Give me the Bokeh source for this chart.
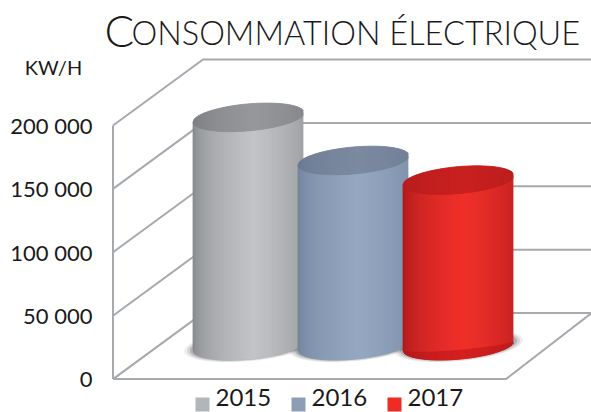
import math
from bokeh.core.properties import value
from bokeh.embed import file_html
from bokeh.resources import INLINE
from bokeh.plotting import figure
from bokeh.models import Range1d

categories = ["2015", "2016", "2017"]
values = [180000, 146000, 130500]
legend_colors = ["#b3b6b9", "#8c9db5", "#ee2b24"]
body_edge = ["#808285", "#6f7f99", "#a5181b"]
body_light = ["#c2c4c6", "#95a8c1", "#f0302a"]
top_edge = ["#77797d", "#687690", "#b01c1e"]
top_light = ["#96989b", "#7c8aa0", "#c9211f"]
base_tint = [None, None, "#d51f1f"]
tick_values = [0, 50000, 100000, 150000, 200000]
tick_labels = ["0", "50 000", "100 000", "150 000", "200 000"]
title_first = "C"
title_rest = "ONSOMMATION  ÉLECTRIQUE"
unit_label = "KW/H"

# layout (page pixels) of the fake 3D box
FONT = "Lato"
TITLE_FONT = "Lato Light"
INK = "#1a1a1a"
LINE = "#a6a9ae"
ZERO_PX, TOP_PX = 378.6, 125.0
K = 200000 / (ZERO_PX - TOP_PX)        # value per pixel
DEPTH_X, DEPTH_Y = 90, 66 * K
RIGHT_X = 505.5
CX = [248, 353, 458]
A, B, SHEAR = 55.5, 13.5, -0.085
BASE = 33.5 * K
LEG_X = [195, 291, 387]


def val(py):
    return (ZERO_PX - py) * K


p = figure(width=591, height=412, output_backend="svg", toolbar_location=None,
           x_range=Range1d(0, 591), y_range=Range1d(val(412), val(0)),
           min_border_left=0, min_border_right=0, min_border_top=0, min_border_bottom=0,
           outline_line_color=None, x_axis_location=None, y_axis_location=None)
p.grid.visible = False


def label(x, py, text, font, size, align="left"):
    p.text([x], [val(py)], text=[text], text_font=value(font), text_font_size=size,
           text_color=INK, text_align=align, text_baseline="middle")


# value scale labels
p.text([92] * len(tick_values), tick_values, text=tick_labels, text_font=value(FONT),
       text_font_size="22px", text_color=INK, text_align="right", text_baseline="middle")

# walls and floor
for tv in tick_values:
    p.line([112.5, 112.5 + DEPTH_X, 591], [tv, tv + DEPTH_Y, tv + DEPTH_Y], line_color=LINE, line_width=2)
p.line([112.5, 112.5], [0, 200000], line_color=LINE, line_width=2)
p.line([112.5, RIGHT_X, 591], [0, 0, DEPTH_Y], line_color=LINE, line_width=2)


def mix(c1, c2, t):
    a = [int(c1[i:i + 2], 16) for i in (1, 3, 5)]
    b = [int(c2[i:i + 2], 16) for i in (1, 3, 5)]
    return "#%02x%02x%02x" % tuple(round(a[i] + (b[i] - a[i]) * t) for i in range(3))


def strips(cx, lo, hi, c_edge, c_light, power=0.45):
    xs, ys, cs = [], [], []
    step = 2.0
    n = int(2 * A / step)
    for i in range(n):
        x0 = cx - A + i * step
        x1 = x0 + step
        pts_x = [x0, x0 + step / 2, x1]
        tt = ((x0 + step / 2) - (cx - A)) / (2 * A)
        t = max(0.0, 1 - abs(tt - 0.55) / 0.55) ** power
        xs.append(pts_x + pts_x[::-1])
        ys.append([lo(x) for x in pts_x] + [hi(x) for x in pts_x[::-1]])
        cs.append(mix(c_edge, c_light, t))
    p.patches(xs, ys, fill_color=cs, line_color=cs, line_width=0.8)


def half(x, cx):
    u = min(1.0, abs(x - cx) / A)
    return B * math.sqrt(1 - u * u)


# soft shadows on the floor
for grow, alpha in ((9, 0.10), (6, 0.18), (3, 0.3)):
    for cx in CX:
        ts = [i * 2 * math.pi / 60 for i in range(60)]
        sx = [cx + (A + grow) * math.cos(t) for t in ts]
        sy = [BASE + (-SHEAR * (A + grow) * math.cos(t) + (B + grow * 0.25) * math.sin(t)) * K for t in ts]
        p.patch(sx, sy, fill_color="#5f6165", fill_alpha=alpha, line_color=None)

for i, cat in enumerate(categories):
    c = CX[i]
    top = BASE + values[i]
    strips(c,
           lambda x, c=c: BASE + (-SHEAR * (x - c) - half(x, c)) * K,
           lambda x, c=c, t=top: t - SHEAR * (x - c) * K,
           body_edge[i], body_light[i])
    if base_tint[i]:
        strips(c,
               lambda x, c=c: BASE + (-SHEAR * (x - c) - half(x, c)) * K,
               lambda x, c=c: BASE + (-SHEAR * (x - c) - 0.35 * half(x, c)) * K,
               body_edge[i], base_tint[i])
    strips(c,
           lambda x, c=c, t=top: t + (-SHEAR * (x - c) - half(x, c)) * K,
           lambda x, c=c, t=top: t + (-SHEAR * (x - c) + half(x, c)) * K,
           top_edge[i], top_light[i])

# legend
for i, cat in enumerate(categories):
    p.quad(left=[LEG_X[i]], right=[LEG_X[i] + 14], top=[val(397)], bottom=[val(411)],
           fill_color=legend_colors[i], line_color=None)
    label(LEG_X[i] + 20, 397, cat, FONT, "24px")

label(104, 29, title_first, TITLE_FONT, "44px")
label(131, 32, title_rest, TITLE_FONT, "32.5px")
label(53, 66, unit_label, FONT, "20px", align="center")

open("out.html", "w").write(file_html(p, INLINE))
